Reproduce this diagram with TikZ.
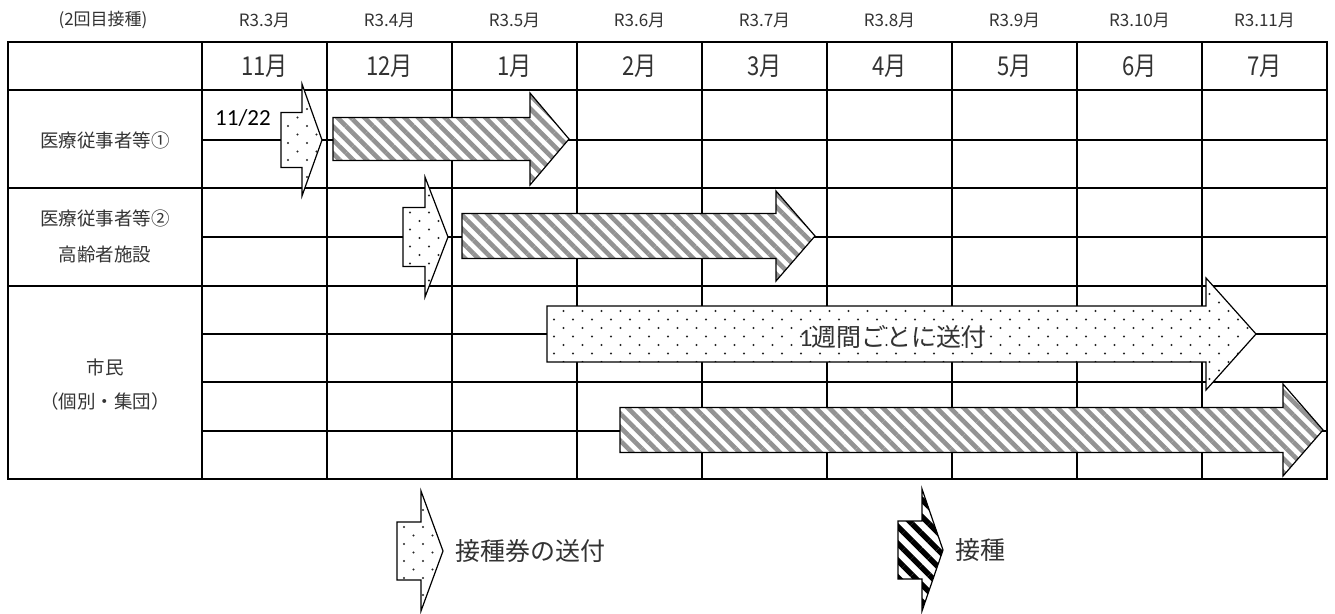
\documentclass[tikz,border=0pt]{standalone}
\usepackage{fontspec}
\setmainfont{Noto Sans CJK JP}
\newfontfamily\hdrfont[FakeStretch=0.85]{Noto Sans CJK JP}
\newfontfamily\calfont{Carlito}
\usetikzlibrary{patterns.meta}
% #1 shaft left, #2 head base, #3 tip, #4 centre y, #5 shaft half height, #6 head half height
\newcommand\arrowpath[6]{(#1,#4-#5) -- (#2,#4-#5) -- (#2,#4-#6) -- (#3,#4) -- (#2,#4+#6) -- (#2,#4+#5) -- (#1,#4+#5) -- cycle}
\newcommand\myarrow[7][]{\draw[#1] \arrowpath{#2}{#3}{#4}{#5}{#6}{#7};}
\newcommand\dotarrow[6]{%
  \fill[white] \arrowpath{#1}{#2}{#3}{#4}{#5}{#6};
  \begin{scope}
    \clip \arrowpath{#1}{#2}{#3}{#4}{#5}{#6};
    \pgfmathtruncatemacro\nrows{2*#6/8.5+1}
    \pgfmathtruncatemacro\ncols{(#3-#1)/19+1}
    \foreach \r in {0,...,\nrows}{
      \pgfmathsetmacro\yy{#4-#5+5+8.5*\r-8.5*round((#6-#5)/8.5)}
      \pgfmathsetmacro\xo{mod(\r,2)*9.5}
      \foreach \c in {0,...,\ncols}{
        \fill[dotcol] (#1+7+\xo+19*\c,\yy) circle (1.15pt);
      }
    }
  \end{scope}
  \draw[arrowline] \arrowpath{#1}{#2}{#3}{#4}{#5}{#6};}
\begin{document}
\begin{tikzpicture}[x=1pt,y=-1pt,
  hline/.style={line width=2.6pt},
  vline/.style={line width=2pt},
  dotcol/.style={black!85},
  arrowline/.style={draw=black,line width=1.2pt,line join=miter},
  hatchfill/.style={arrowline,preaction={fill=white},pattern={Lines[angle=-45,distance=9.5pt,line width=4.6pt]},pattern color=gray!85},
  hatchblack/.style={arrowline,preaction={fill=white},pattern={Lines[angle=-45,distance=12pt,line width=5.5pt]},pattern color=black},
  toplab/.style={font=\fontsize{17}{17}\selectfont,inner sep=0pt,text=black!80},
  monthlab/.style={font=\hdrfont\fontsize{26}{26}\selectfont,inner sep=0pt,text=black!80},
  rowlab/.style={font=\fontsize{18.5}{18.5}\selectfont,inner sep=0pt,text=black!80},
  biglab/.style={font=\fontsize{25}{25}\selectfont,inner sep=0pt,text=black!80}
]
\useasboundingbox (0,0) rectangle (1335,613);
% grid
\foreach \x in {202,327,452,577,702,827,952,1077,1202}
  \draw[vline] (\x,42) -- (\x,479);
\foreach \y in {90,188,286}
  \draw[hline] (8,\y) -- (1327,\y);
\foreach \y in {140,237,334,382,431}
  \draw[hline] (202,\y) -- (1327,\y);
\draw[hline] (8,42) rectangle (1327,479);
% top labels
\node[toplab] (t0) at (103,20) {(2回目接種)};
\foreach \m [count=\i from 0] in {3,4,5,6,7,8,9,10,11}
  \node[toplab] (t\m) at (264.5+125*\i,20) {R3.\m{}月};
% month header
\foreach \m [count=\i from 0] in {11,12,1,2,3,4,5,6,7}
  \node[monthlab] (h\i) at (264.5+125*\i,66) {\m{}月};
% row labels
\node[rowlab] (r1) at (105,140) {医療従事者等①};
\node[rowlab] (r2a) at (105,218) {医療従事者等②};
\node[rowlab] (r2b) at (105,254) {高齢者施設};
\node[rowlab] (r3a) at (105,367) {市民};
\node[rowlab] (r3b) at (105,401) {（個別・集団）};
% arrows
\dotarrow{281}{302}{322}{140}{27.5}{56}
\myarrow[hatchfill]{333}{530}{569}{139}{21.5}{46}
\dotarrow{403}{425}{448}{237}{29.5}{60}
\myarrow[hatchfill]{462}{776}{815}{236}{22.5}{45}
\dotarrow{547}{1206}{1256}{334}{28}{56}
\myarrow[hatchfill]{620}{1283}{1323}{430}{22.5}{46}
% labels on arrows
\node[inner sep=0pt,font=\calfont\fontsize{23}{23}\selectfont] (d1) at (243,118) {11/22};
\node[biglab] (w1) at (893,337) {{\calfont 1}週間ごとに送付};
% legend
\dotarrow{397}{421}{443}{551}{29}{60}
\node[biglab,anchor=west] (lg1) at (455,551) {接種券の送付};
\myarrow[hatchblack]{898}{922}{943}{550}{29}{61}
\node[biglab,anchor=west] (lg2) at (955,550) {接種};
\end{tikzpicture}
\end{document}
